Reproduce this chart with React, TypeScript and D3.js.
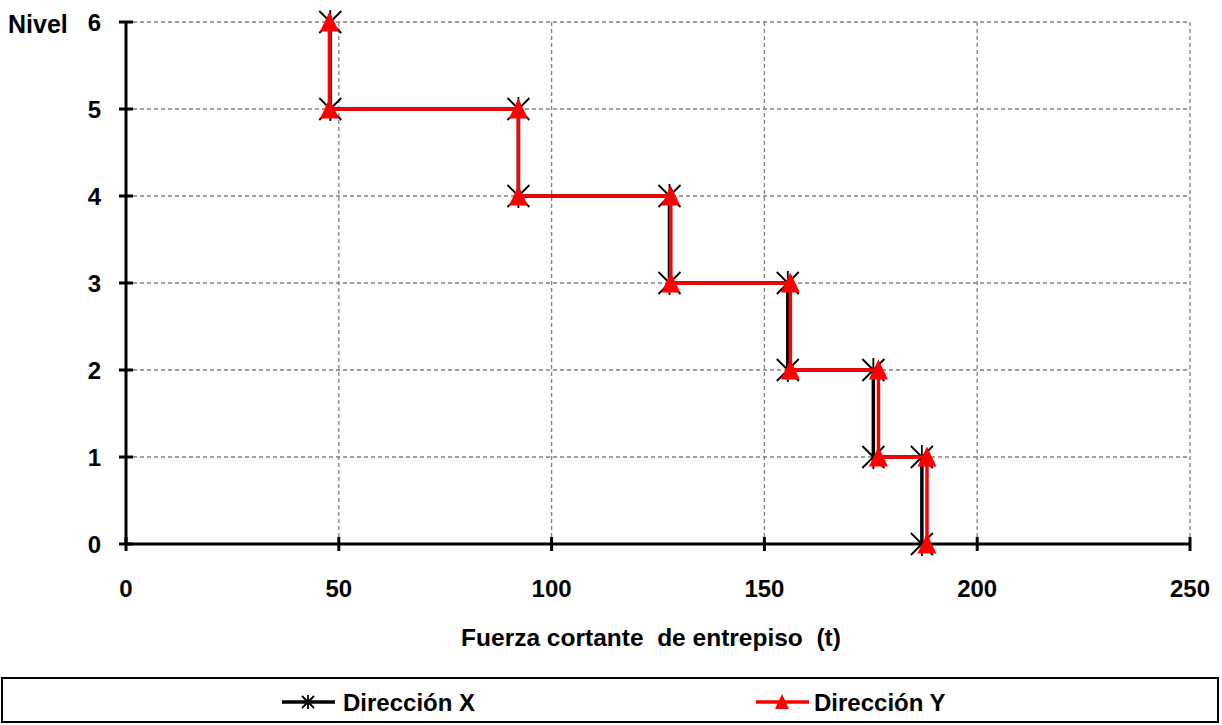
import React from "react";
import * as d3 from "d3";

const levels = [0, 1, 2, 3, 4, 5, 6];
// storey shear per storey (storey 1 .. 6)
const shearX = [187, 175.6, 155.5, 127.7, 92.2, 48];
const shearY = [188.2, 176.8, 156.1, 128, 92.2, 47.8];
const xTicks = [0, 50, 100, 150, 200, 250];
const yTicks = [0, 1, 2, 3, 4, 5, 6];
const seriesNames = ["Dirección X", "Dirección Y"];
const seriesColors = ["#000000", "#ff0000"];

function stepPoints(v: number[]): [number, number][] {
  const pts: [number, number][] = [];
  v.forEach((s, i) => {
    pts.push([s, levels[i]]);
    pts.push([s, levels[i + 1]]);
  });
  return pts;
}

const W = 1222;
const H = 725;
const left = 126;
const right = 1190;
const top = 22;
const bottom = 544;

export default function App() {
  const x = d3.scaleLinear().domain([0, 250]).range([left, right]);
  const y = d3.scaleLinear().domain([0, 6]).range([bottom, top]);
  const line = d3.line<[number, number]>().x((d) => x(d[0])).y((d) => y(d[1]));
  const ptsX = stepPoints(shearX);
  const ptsY = stepPoints(shearY);
  const font = "'Liberation Sans', Arial, sans-serif";

  const star = (cx: number, cy: number, k: string, s = 11, v = 12) => (
    <g key={k} stroke="#000" strokeWidth={1.8}>
      <line x1={cx - s} y1={cy - s} x2={cx + s} y2={cy + s} />
      <line x1={cx - s} y1={cy + s} x2={cx + s} y2={cy - s} />
      <line x1={cx} y1={cy - v} x2={cx} y2={cy + v} />
    </g>
  );
  const tri = (cx: number, cy: number, k: string, s = 9.5) => (
    <path
      key={k}
      d={`M${cx},${cy - s - 1}L${cx + s},${cy + s}L${cx - s},${cy + s}Z`}
      fill="#ff0000"
    />
  );

  return (
    <svg
      width={W}
      height={H}
      style={{ position: "absolute", left: 0, top: 0, background: "#fff" }}
      fontFamily={font}
    >
      <rect x={0} y={0} width={W} height={H} fill="#fff" />
      {/* grid */}
      {xTicks.filter((t) => t > 0).map((t) => (
        <line key={"gx" + t} x1={x(t)} x2={x(t)} y1={top} y2={bottom} stroke="#808080" strokeWidth={1.3} strokeDasharray="4,3" />
      ))}
      {yTicks.filter((t) => t > 0).map((t) => (
        <line key={"gy" + t} x1={left} x2={right} y1={y(t)} y2={y(t)} stroke="#808080" strokeWidth={1.3} strokeDasharray="4,3" />
      ))}
      {/* axes */}
      <line x1={left} x2={left} y1={top} y2={bottom} stroke="#000" strokeWidth={3} />
      <line x1={left} x2={right} y1={bottom} y2={bottom} stroke="#000" strokeWidth={3} />
      {yTicks.map((t) => (
        <line key={"ty" + t} x1={left - 7} x2={left + 7} y1={y(t)} y2={y(t)} stroke="#000" strokeWidth={3} />
      ))}
      {xTicks.map((t) => (
        <line key={"tx" + t} x1={x(t)} x2={x(t)} y1={bottom - 7} y2={bottom + 7} stroke="#000" strokeWidth={3} />
      ))}
      {yTicks.map((t) => (
        <text key={"ly" + t} x={101} y={y(t) + 9} textAnchor="end" fontSize={24} fontWeight="bold">
          {t}
        </text>
      ))}
      {xTicks.map((t) => (
        <text key={"lx" + t} x={x(t)} y={597} textAnchor="middle" fontSize={24} fontWeight="bold">
          {t}
        </text>
      ))}
      <text x={8} y={33} fontSize={25} fontWeight="bold">Nivel</text>
      <text x={651} y={646} textAnchor="middle" fontSize={24.5} fontWeight="bold" style={{ whiteSpace: "pre" }}>
        {"Fuerza cortante  de entrepiso  (t)"}
      </text>
      {/* series */}
      <path d={line(ptsX) || ""} fill="none" stroke={seriesColors[0]} strokeWidth={3.5} />
      {ptsX.map((p, i) => star(x(p[0]), y(p[1]), "sx" + i))}
      <path d={line(ptsY) || ""} fill="none" stroke={seriesColors[1]} strokeWidth={3.5} />
      {ptsY.map((p, i) => tri(x(p[0]), y(p[1]), "ty" + i))}
      {/* legend */}
      <rect x={2} y={678} width={1216} height={44} fill="#fff" stroke="#000" strokeWidth={2} />
      <line x1={282} x2={335} y1={702} y2={702} stroke={seriesColors[0]} strokeWidth={3.5} />
      {star(308, 702, "lgx", 6, 7)}
      <text x={343} y={711} fontSize={24} fontWeight="bold">{seriesNames[0]}</text>
      <line x1={756} x2={809} y1={702} y2={702} stroke={seriesColors[1]} strokeWidth={3.5} />
      {tri(782, 702, "lgy", 7)}
      <text x={814} y={711} fontSize={24} fontWeight="bold">{seriesNames[1]}</text>
    </svg>
  );
}
